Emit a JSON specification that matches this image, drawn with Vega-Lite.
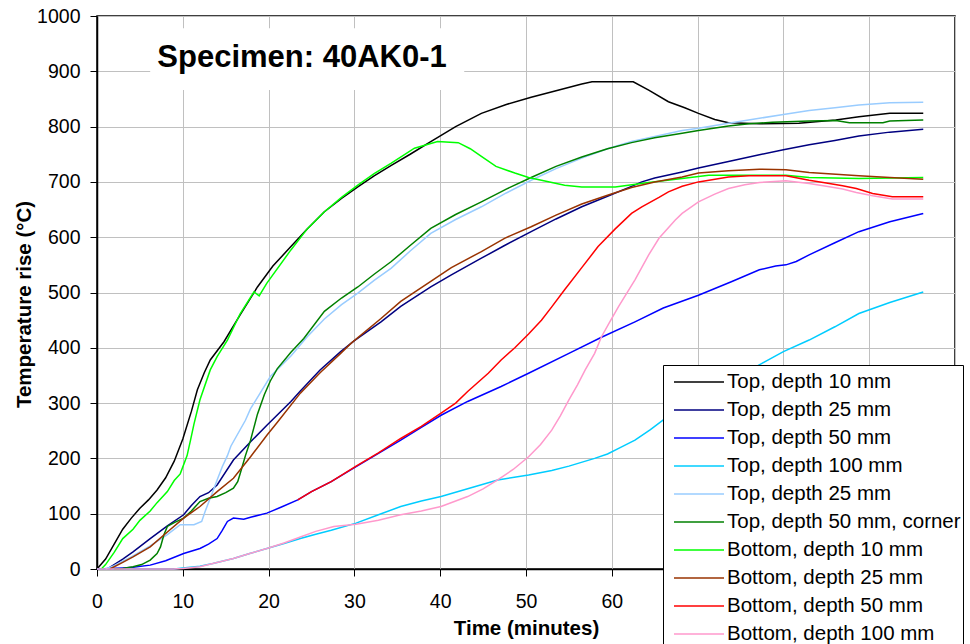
{
  "$schema": "https://vega.github.io/schema/vega-lite/v6.json",
  "width": 858,
  "height": 553,
  "autosize": "none",
  "padding": {"left": 97, "top": 16, "right": 15, "bottom": 75},
  "background": "white",
  "config": {
    "font": "Liberation Sans",
    "view": {"stroke": "black", "strokeWidth": 1.5}
  },
  "datasets": {
    "box": [{"t": 6.2, "t2": 42.8, "v": 866, "v2": 978}],
    "label": [{"t": 23.9, "v": 908, "text": "Specimen: 40AK0-1"}],
    "series": [
      {"s":"T10","t":0,"v":0},{"s":"T10","t":1,"v":18},{"s":"T10","t":2,"v":45},{"s":"T10","t":3,"v":72},{"s":"T10","t":4,"v":92},{"s":"T10","t":5,"v":110},{"s":"T10","t":6,"v":125},{"s":"T10","t":7,"v":143},{"s":"T10","t":8,"v":165},{"s":"T10","t":9,"v":195},{"s":"T10","t":10,"v":235},{"s":"T10","t":11,"v":285},{"s":"T10","t":11.7,"v":324},{"s":"T10","t":12.5,"v":355},{"s":"T10","t":13.2,"v":378},{"s":"T10","t":14.8,"v":411},{"s":"T10","t":16.7,"v":460},{"s":"T10","t":18.7,"v":510},{"s":"T10","t":20.5,"v":548},{"s":"T10","t":22.6,"v":583},{"s":"T10","t":24.5,"v":615},{"s":"T10","t":26.5,"v":646},{"s":"T10","t":28.5,"v":670},{"s":"T10","t":30.4,"v":691},{"s":"T10","t":32.3,"v":711},{"s":"T10","t":34.3,"v":730},{"s":"T10","t":36.5,"v":750},{"s":"T10","t":38.9,"v":773},{"s":"T10","t":41.8,"v":800},{"s":"T10","t":44.8,"v":824},{"s":"T10","t":47.7,"v":840},{"s":"T10","t":50.6,"v":853},{"s":"T10","t":53.5,"v":865},{"s":"T10","t":56.5,"v":877},{"s":"T10","t":57.7,"v":881},{"s":"T10","t":62.5,"v":881},{"s":"T10","t":64.3,"v":866},{"s":"T10","t":66.6,"v":845},{"s":"T10","t":68.5,"v":834},{"s":"T10","t":70.1,"v":824},{"s":"T10","t":72,"v":813},{"s":"T10","t":73.6,"v":807},{"s":"T10","t":77.2,"v":805},{"s":"T10","t":81.8,"v":806},{"s":"T10","t":86.1,"v":812},{"s":"T10","t":88.8,"v":818},{"s":"T10","t":92.4,"v":824},{"s":"T10","t":96.3,"v":824},

      {"s":"T25","t":1.2,"v":0},{"s":"T25","t":2,"v":8},{"s":"T25","t":3,"v":18},{"s":"T25","t":4.2,"v":31},{"s":"T25","t":6.2,"v":55},{"s":"T25","t":8.2,"v":78},{"s":"T25","t":10.1,"v":98},{"s":"T25","t":11,"v":115},{"s":"T25","t":12,"v":131},{"s":"T25","t":13,"v":138},{"s":"T25","t":14,"v":152},{"s":"T25","t":15.9,"v":197},{"s":"T25","t":17.9,"v":230},{"s":"T25","t":19.8,"v":260},{"s":"T25","t":22.6,"v":303},{"s":"T25","t":23.7,"v":322},{"s":"T25","t":26,"v":360},{"s":"T25","t":28.4,"v":393},{"s":"T25","t":30,"v":413},{"s":"T25","t":33.1,"v":447},{"s":"T25","t":35.4,"v":475},{"s":"T25","t":38.9,"v":510},{"s":"T25","t":41.3,"v":532},{"s":"T25","t":44.8,"v":562},{"s":"T25","t":47.5,"v":585},{"s":"T25","t":50.6,"v":610},{"s":"T25","t":53.5,"v":633},{"s":"T25","t":56.5,"v":655},{"s":"T25","t":59.5,"v":674},{"s":"T25","t":62.3,"v":692},{"s":"T25","t":63.5,"v":700},{"s":"T25","t":65,"v":707},{"s":"T25","t":68.2,"v":718},{"s":"T25","t":70.1,"v":725},{"s":"T25","t":73.6,"v":737},{"s":"T25","t":77.2,"v":749},{"s":"T25","t":80,"v":758},{"s":"T25","t":83,"v":767},{"s":"T25","t":86,"v":775},{"s":"T25","t":88.8,"v":783},{"s":"T25","t":92.4,"v":790},{"s":"T25","t":96.3,"v":795},

      {"s":"T50","t":0,"v":0},{"s":"T50","t":3,"v":2},{"s":"T50","t":4.2,"v":3},{"s":"T50","t":6.2,"v":7},{"s":"T50","t":8,"v":15},{"s":"T50","t":10.1,"v":28},{"s":"T50","t":12,"v":37},{"s":"T50","t":13,"v":45},{"s":"T50","t":14,"v":55},{"s":"T50","t":14.6,"v":70},{"s":"T50","t":15.2,"v":86},{"s":"T50","t":15.9,"v":92},{"s":"T50","t":17.1,"v":90},{"s":"T50","t":18,"v":94},{"s":"T50","t":19.8,"v":101},{"s":"T50","t":21.5,"v":112},{"s":"T50","t":23.4,"v":125},{"s":"T50","t":25,"v":140},{"s":"T50","t":27.3,"v":158},{"s":"T50","t":30.2,"v":185},{"s":"T50","t":32.8,"v":209},{"s":"T50","t":35.4,"v":233},{"s":"T50","t":37.8,"v":256},{"s":"T50","t":40.1,"v":278},{"s":"T50","t":43.2,"v":303},{"s":"T50","t":47.1,"v":330},{"s":"T50","t":50.3,"v":354},{"s":"T50","t":55,"v":390},{"s":"T50","t":58.8,"v":419},{"s":"T50","t":62.7,"v":447},{"s":"T50","t":66,"v":472},{"s":"T50","t":70.1,"v":495},{"s":"T50","t":74,"v":520},{"s":"T50","t":77.2,"v":541},{"s":"T50","t":79.1,"v":548},{"s":"T50","t":80.3,"v":550},{"s":"T50","t":81.5,"v":556},{"s":"T50","t":83,"v":568},{"s":"T50","t":86,"v":590},{"s":"T50","t":88.8,"v":610},{"s":"T50","t":92.4,"v":628},{"s":"T50","t":96.3,"v":643},

      {"s":"T100","t":0,"v":0},{"s":"T100","t":9,"v":0},{"s":"T100","t":10,"v":2},{"s":"T100","t":12,"v":5},{"s":"T100","t":13.5,"v":10},{"s":"T100","t":15.9,"v":19},{"s":"T100","t":17.8,"v":28},{"s":"T100","t":19.8,"v":37},{"s":"T100","t":21.8,"v":46},{"s":"T100","t":23.7,"v":55},{"s":"T100","t":25.5,"v":63},{"s":"T100","t":27.3,"v":70},{"s":"T100","t":30.2,"v":83},{"s":"T100","t":32.8,"v":98},{"s":"T100","t":35.4,"v":113},{"s":"T100","t":37.8,"v":123},{"s":"T100","t":40.1,"v":131},{"s":"T100","t":43.4,"v":146},{"s":"T100","t":46.7,"v":161},{"s":"T100","t":50.3,"v":170},{"s":"T100","t":53,"v":178},{"s":"T100","t":55,"v":186},{"s":"T100","t":58,"v":200},{"s":"T100","t":59.5,"v":208},{"s":"T100","t":60.8,"v":218},{"s":"T100","t":62.7,"v":233},{"s":"T100","t":64.5,"v":252},{"s":"T100","t":66.2,"v":272},{"s":"T100","t":68.5,"v":295},{"s":"T100","t":71,"v":318},{"s":"T100","t":74,"v":342},{"s":"T100","t":77.5,"v":372},{"s":"T100","t":80,"v":393},{"s":"T100","t":83,"v":414},{"s":"T100","t":86,"v":438},{"s":"T100","t":88.8,"v":462},{"s":"T100","t":92.4,"v":482},{"s":"T100","t":96.3,"v":501},

      {"s":"T25b","t":1,"v":0},{"s":"T25b","t":2,"v":6},{"s":"T25b","t":3,"v":14},{"s":"T25b","t":4,"v":22},{"s":"T25b","t":6.2,"v":42},{"s":"T25b","t":8.2,"v":62},{"s":"T25b","t":9.7,"v":80},{"s":"T25b","t":11.3,"v":80},{"s":"T25b","t":12.2,"v":86},{"s":"T25b","t":12.6,"v":104},{"s":"T25b","t":13.5,"v":140},{"s":"T25b","t":14,"v":161},{"s":"T25b","t":14.6,"v":185},{"s":"T25b","t":15.2,"v":205},{"s":"T25b","t":15.6,"v":222},{"s":"T25b","t":17.3,"v":269},{"s":"T25b","t":17.9,"v":290},{"s":"T25b","t":20.2,"v":348},{"s":"T25b","t":22.6,"v":385},{"s":"T25b","t":24.5,"v":420},{"s":"T25b","t":26.5,"v":452},{"s":"T25b","t":28.5,"v":478},{"s":"T25b","t":30.4,"v":499},{"s":"T25b","t":32.3,"v":522},{"s":"T25b","t":34.3,"v":544},{"s":"T25b","t":36.5,"v":575},{"s":"T25b","t":38.9,"v":607},{"s":"T25b","t":41.8,"v":632},{"s":"T25b","t":44.8,"v":655},{"s":"T25b","t":47.7,"v":680},{"s":"T25b","t":50.6,"v":703},{"s":"T25b","t":53.5,"v":724},{"s":"T25b","t":56.5,"v":743},{"s":"T25b","t":59.5,"v":760},{"s":"T25b","t":62.3,"v":773},{"s":"T25b","t":65,"v":782},{"s":"T25b","t":68.2,"v":793},{"s":"T25b","t":70.1,"v":797},{"s":"T25b","t":73.6,"v":806},{"s":"T25b","t":77.2,"v":815},{"s":"T25b","t":80,"v":822},{"s":"T25b","t":83,"v":829},{"s":"T25b","t":86,"v":834},{"s":"T25b","t":88.8,"v":839},{"s":"T25b","t":92.4,"v":843},{"s":"T25b","t":96.3,"v":844},

      {"s":"T50c","t":2,"v":0},{"s":"T50c","t":3,"v":1},{"s":"T50c","t":4.2,"v":4},{"s":"T50c","t":5.2,"v":8},{"s":"T50c","t":6.2,"v":16},{"s":"T50c","t":7,"v":28},{"s":"T50c","t":7.4,"v":40},{"s":"T50c","t":7.8,"v":62},{"s":"T50c","t":8.2,"v":77},{"s":"T50c","t":9,"v":84},{"s":"T50c","t":10.1,"v":92},{"s":"T50c","t":11,"v":105},{"s":"T50c","t":12,"v":122},{"s":"T50c","t":13,"v":128},{"s":"T50c","t":14,"v":131},{"s":"T50c","t":15,"v":138},{"s":"T50c","t":15.9,"v":146},{"s":"T50c","t":16.4,"v":158},{"s":"T50c","t":16.7,"v":173},{"s":"T50c","t":17.3,"v":205},{"s":"T50c","t":17.9,"v":233},{"s":"T50c","t":18.7,"v":280},{"s":"T50c","t":19.5,"v":315},{"s":"T50c","t":20.2,"v":340},{"s":"T50c","t":21,"v":362},{"s":"T50c","t":22.6,"v":392},{"s":"T50c","t":24.1,"v":417},{"s":"T50c","t":26.5,"v":466},{"s":"T50c","t":28.5,"v":490},{"s":"T50c","t":30.4,"v":510},{"s":"T50c","t":32.3,"v":533},{"s":"T50c","t":34.3,"v":556},{"s":"T50c","t":36.5,"v":585},{"s":"T50c","t":38.9,"v":616},{"s":"T50c","t":41.8,"v":641},{"s":"T50c","t":44.8,"v":664},{"s":"T50c","t":47.7,"v":687},{"s":"T50c","t":50.6,"v":708},{"s":"T50c","t":53.5,"v":728},{"s":"T50c","t":56.5,"v":745},{"s":"T50c","t":59.5,"v":760},{"s":"T50c","t":62.3,"v":771},{"s":"T50c","t":65,"v":780},{"s":"T50c","t":68.2,"v":788},{"s":"T50c","t":70.1,"v":793},{"s":"T50c","t":73.6,"v":801},{"s":"T50c","t":76,"v":805},{"s":"T50c","t":78.7,"v":808},{"s":"T50c","t":83,"v":810},{"s":"T50c","t":86.1,"v":811},{"s":"T50c","t":87.7,"v":807},{"s":"T50c","t":91.6,"v":807},{"s":"T50c","t":92.4,"v":810},{"s":"T50c","t":94.3,"v":811},{"s":"T50c","t":96.3,"v":812},

      {"s":"B10","t":0.5,"v":0},{"s":"B10","t":1,"v":8},{"s":"B10","t":2,"v":30},{"s":"B10","t":3,"v":55},{"s":"B10","t":4.2,"v":72},{"s":"B10","t":5,"v":88},{"s":"B10","t":6.2,"v":105},{"s":"B10","t":7,"v":120},{"s":"B10","t":8.2,"v":140},{"s":"B10","t":9,"v":160},{"s":"B10","t":9.7,"v":172},{"s":"B10","t":10.5,"v":205},{"s":"B10","t":10.9,"v":233},{"s":"B10","t":11.3,"v":262},{"s":"B10","t":12,"v":306},{"s":"B10","t":13.2,"v":360},{"s":"B10","t":14,"v":384},{"s":"B10","t":15.2,"v":414},{"s":"B10","t":16.7,"v":462},{"s":"B10","t":18.3,"v":501},{"s":"B10","t":18.9,"v":494},{"s":"B10","t":19.8,"v":517},{"s":"B10","t":22.6,"v":577},{"s":"B10","t":24.5,"v":615},{"s":"B10","t":26.5,"v":646},{"s":"B10","t":28.5,"v":672},{"s":"B10","t":30.4,"v":694},{"s":"B10","t":32.3,"v":715},{"s":"B10","t":34.3,"v":734},{"s":"B10","t":37,"v":761},{"s":"B10","t":39.7,"v":773},{"s":"B10","t":42.1,"v":771},{"s":"B10","t":43.5,"v":760},{"s":"B10","t":44.8,"v":746},{"s":"B10","t":46.5,"v":728},{"s":"B10","t":48.7,"v":716},{"s":"B10","t":50.3,"v":708},{"s":"B10","t":51.8,"v":703},{"s":"B10","t":54.5,"v":694},{"s":"B10","t":56.5,"v":691},{"s":"B10","t":60.4,"v":691},{"s":"B10","t":64.3,"v":699},{"s":"B10","t":68.2,"v":706},{"s":"B10","t":71.3,"v":712},{"s":"B10","t":80.3,"v":712},{"s":"B10","t":83,"v":708},{"s":"B10","t":88.8,"v":706},{"s":"B10","t":96.3,"v":708},

      {"s":"B25","t":1.5,"v":0},{"s":"B25","t":3,"v":12},{"s":"B25","t":4.2,"v":22},{"s":"B25","t":6.2,"v":40},{"s":"B25","t":8.2,"v":67},{"s":"B25","t":10.1,"v":92},{"s":"B25","t":12,"v":113},{"s":"B25","t":14,"v":140},{"s":"B25","t":15.9,"v":164},{"s":"B25","t":17.9,"v":203},{"s":"B25","t":19.8,"v":242},{"s":"B25","t":21,"v":265},{"s":"B25","t":23.7,"v":318},{"s":"B25","t":26,"v":355},{"s":"B25","t":28.4,"v":390},{"s":"B25","t":29.6,"v":408},{"s":"B25","t":33.1,"v":453},{"s":"B25","t":35.4,"v":484},{"s":"B25","t":38.9,"v":520},{"s":"B25","t":41.3,"v":545},{"s":"B25","t":44.8,"v":574},{"s":"B25","t":47.5,"v":598},{"s":"B25","t":50.6,"v":619},{"s":"B25","t":53.5,"v":640},{"s":"B25","t":56.5,"v":660},{"s":"B25","t":59.5,"v":676},{"s":"B25","t":62.3,"v":690},{"s":"B25","t":65,"v":700},{"s":"B25","t":68.2,"v":709},{"s":"B25","t":70.1,"v":716},{"s":"B25","t":73.6,"v":720},{"s":"B25","t":77.2,"v":723},{"s":"B25","t":80.3,"v":722},{"s":"B25","t":83,"v":717},{"s":"B25","t":88.8,"v":711},{"s":"B25","t":92.4,"v":708},{"s":"B25","t":96.3,"v":705},

      {"s":"B50","t":23.4,"v":125},{"s":"B50","t":25,"v":140},{"s":"B50","t":27.3,"v":158},{"s":"B50","t":30.2,"v":186},{"s":"B50","t":32.8,"v":210},{"s":"B50","t":35.4,"v":236},{"s":"B50","t":37.8,"v":258},{"s":"B50","t":40.1,"v":282},{"s":"B50","t":41.8,"v":300},{"s":"B50","t":43.2,"v":321},{"s":"B50","t":45.6,"v":354},{"s":"B50","t":47.1,"v":378},{"s":"B50","t":48.7,"v":400},{"s":"B50","t":50.3,"v":425},{"s":"B50","t":51.8,"v":450},{"s":"B50","t":53,"v":474},{"s":"B50","t":54.5,"v":505},{"s":"B50","t":56.5,"v":545},{"s":"B50","t":58.4,"v":583},{"s":"B50","t":60.4,"v":615},{"s":"B50","t":62.3,"v":643},{"s":"B50","t":63.5,"v":655},{"s":"B50","t":65.5,"v":672},{"s":"B50","t":66.6,"v":682},{"s":"B50","t":68.2,"v":692},{"s":"B50","t":70.1,"v":700},{"s":"B50","t":73.6,"v":709},{"s":"B50","t":76,"v":711},{"s":"B50","t":80.3,"v":711},{"s":"B50","t":83,"v":703},{"s":"B50","t":85,"v":698},{"s":"B50","t":86.9,"v":693},{"s":"B50","t":88.5,"v":688},{"s":"B50","t":90.4,"v":679},{"s":"B50","t":92.7,"v":673},{"s":"B50","t":96.3,"v":673},

      {"s":"B100","t":0,"v":0},{"s":"B100","t":8.9,"v":0},{"s":"B100","t":10,"v":1},{"s":"B100","t":12,"v":4},{"s":"B100","t":13.5,"v":10},{"s":"B100","t":15.9,"v":19},{"s":"B100","t":17.8,"v":28},{"s":"B100","t":19.8,"v":37},{"s":"B100","t":21.8,"v":47},{"s":"B100","t":23.7,"v":58},{"s":"B100","t":25.5,"v":68},{"s":"B100","t":27.6,"v":77},{"s":"B100","t":30.2,"v":81},{"s":"B100","t":32.8,"v":88},{"s":"B100","t":35.4,"v":98},{"s":"B100","t":37.8,"v":105},{"s":"B100","t":40.1,"v":113},{"s":"B100","t":43.2,"v":131},{"s":"B100","t":45,"v":145},{"s":"B100","t":46.7,"v":161},{"s":"B100","t":48.5,"v":180},{"s":"B100","t":50.3,"v":203},{"s":"B100","t":51.7,"v":225},{"s":"B100","t":53,"v":251},{"s":"B100","t":54,"v":277},{"s":"B100","t":55,"v":306},{"s":"B100","t":56,"v":333},{"s":"B100","t":56.9,"v":360},{"s":"B100","t":58,"v":390},{"s":"B100","t":58.8,"v":420},{"s":"B100","t":59.7,"v":445},{"s":"B100","t":60.8,"v":475},{"s":"B100","t":62.7,"v":523},{"s":"B100","t":64.3,"v":568},{"s":"B100","t":65.5,"v":598},{"s":"B100","t":67.4,"v":631},{"s":"B100","t":68.2,"v":643},{"s":"B100","t":70.1,"v":664},{"s":"B100","t":72,"v":678},{"s":"B100","t":73.6,"v":688},{"s":"B100","t":75.5,"v":695},{"s":"B100","t":77.2,"v":699},{"s":"B100","t":80.3,"v":702},{"s":"B100","t":83,"v":697},{"s":"B100","t":85,"v":692},{"s":"B100","t":86.9,"v":687},{"s":"B100","t":88.5,"v":681},{"s":"B100","t":90.4,"v":675},{"s":"B100","t":92.7,"v":669},{"s":"B100","t":96.3,"v":669}
    ]
  },
  "layer": [
    {
      "data": {"name": "series"},
      "mark": {"type": "line", "strokeWidth": 1.5, "interpolate": "linear"},
      "encoding": {
        "x": {
          "field": "t", "type": "quantitative",
          "scale": {"domain": [0, 100], "nice": false, "zero": false},
          "axis": {
            "title": "Time (minutes)",
            "values": [0, 10, 20, 30, 40, 50, 60, 70, 80, 90, 100],
            "labelExpr": "datum.value >= 70 ? '' : datum.label",
            "grid": true, "gridColor": "#c0c0c0", "gridWidth": 1,
            "domainColor": "black", "domainWidth": 1.5,
            "tickColor": "black", "tickSize": 7, "tickWidth": 1,
            "labelFont": "Liberation Sans", "labelFontSize": 19.5, "labelColor": "black",
            "labelBaseline": "alphabetic", "labelPadding": 31, "labelFlush": false, "labelOverlap": false,
            "titleFont": "Liberation Sans", "titleFontSize": 20.5, "titleFontWeight": "bold", "titleColor": "black",
            "titleBaseline": "alphabetic", "titleX": 429, "titleY": 65
          }
        },
        "y": {
          "field": "v", "type": "quantitative",
          "scale": {"domain": [0, 1000], "nice": false},
          "axis": {
            "title": "Temperature rise (°C)",
            "values": [0, 100, 200, 300, 400, 500, 600, 700, 800, 900, 1000],
            "format": "d",
            "grid": true, "gridColor": "#c0c0c0", "gridWidth": 1,
            "domainColor": "black", "domainWidth": 1.5,
            "tickColor": "black", "tickSize": 7, "tickWidth": 1,
            "labelFont": "Liberation Sans", "labelFontSize": 19.5, "labelColor": "black",
            "labelPadding": 10, "labelFlush": false, "labelOverlap": false,
            "titleFont": "Liberation Sans", "titleFontSize": 20.5, "titleFontWeight": "bold", "titleColor": "black",
            "titleAngle": -90, "titleBaseline": "alphabetic", "titleX": -67, "titleY": 288, "titleAlign": "center"
          }
        },
        "color": {
          "field": "s", "type": "nominal",
          "scale": {
            "domain": ["T10", "T25", "T50", "T100", "T25b", "T50c", "B10", "B25", "B50", "B100"],
            "range": ["#000000", "#000080", "#0000FF", "#00CCFF", "#99CCFF", "#008000", "#00FF00", "#993300", "#FF0000", "#FF99CC"]
          },
          "legend": {
            "title": null,
            "orient": "none", "legendX": 566, "legendY": 349,
            "direction": "vertical",
            "fillColor": "white", "strokeColor": "black",
            "padding": 2, "rowPadding": 2,
            "symbolType": "M-1.805,0H1.805", "symbolSize": 767, "symbolStrokeWidth": 1.5,
            "symbolOffset": 19, "labelOffset": 13,
            "labelFont": "Liberation Sans", "labelFontSize": 20.5, "labelColor": "black", "labelLimit": 500,
            "zindex": 2,
            "labelExpr": "datum.label == 'T10' ? 'Top, depth 10 mm' : datum.label == 'T25' ? 'Top, depth 25 mm' : datum.label == 'T50' ? 'Top, depth 50 mm' : datum.label == 'T100' ? 'Top, depth 100 mm' : datum.label == 'T25b' ? 'Top, depth 25 mm' : datum.label == 'T50c' ? 'Top, depth 50 mm, corner' : datum.label == 'B10' ? 'Bottom, depth 10 mm' : datum.label == 'B25' ? 'Bottom, depth 25 mm' : datum.label == 'B50' ? 'Bottom, depth 50 mm' : 'Bottom, depth 100 mm'"
          }
        }
      }
    },
    {
      "data": {"name": "box"},
      "mark": {"type": "rect", "fill": "white", "stroke": null},
      "encoding": {
        "x": {"field": "t", "type": "quantitative"},
        "x2": {"field": "t2"},
        "y": {"field": "v", "type": "quantitative"},
        "y2": {"field": "v2"}
      }
    },
    {
      "data": {"name": "label"},
      "mark": {"type": "text", "font": "Liberation Sans", "fontSize": 31, "fontWeight": "bold", "color": "black", "align": "center", "baseline": "alphabetic"},
      "encoding": {
        "x": {"field": "t", "type": "quantitative"},
        "y": {"field": "v", "type": "quantitative"},
        "text": {"field": "text"}
      }
    }
  ]
}
